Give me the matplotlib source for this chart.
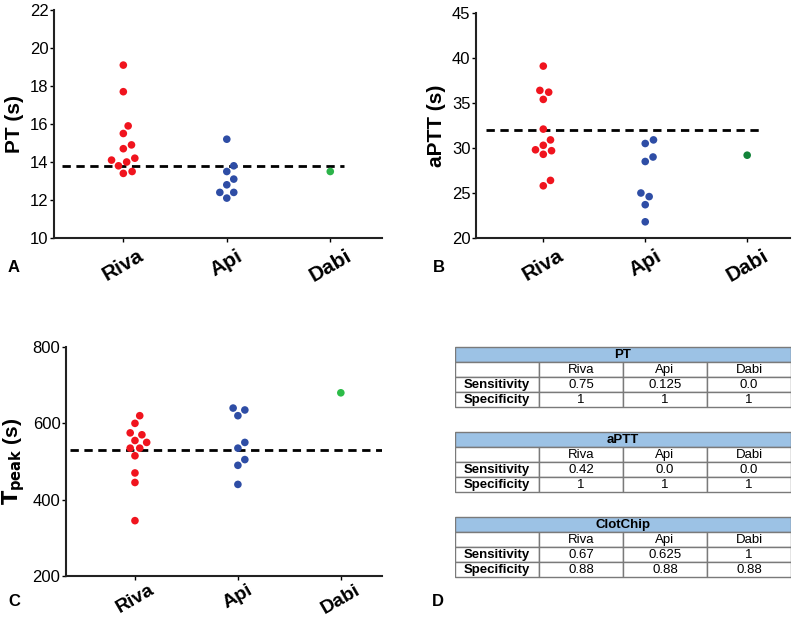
import matplotlib
matplotlib.use("Agg")
import matplotlib.pyplot as plt
from matplotlib.patches import Rectangle
import numpy as np

plt.rcParams['font.family'] = ['Liberation Sans', 'DejaVu Sans']

# --- data ---
groups = ['Riva', 'Api', 'Dabi']

pt_riva = [19.1, 17.7, 15.9, 15.5, 14.7, 14.9, 14.1, 14.2, 14.0, 13.8, 13.5, 13.4]
pt_api = [15.2, 13.8, 13.5, 13.1, 12.8, 12.4, 12.4, 12.1]
pt_dabi = [13.5]
pt_cutoff = 13.8

aptt_riva = [39.1, 36.4, 36.2, 35.4, 32.1, 30.9, 30.3, 29.7, 29.8, 29.3, 26.4, 25.8]
aptt_api = [30.9, 30.5, 29.0, 28.5, 25.0, 24.6, 23.7, 21.8]
aptt_dabi = [29.2]
aptt_cutoff = 32.0

tpeak_riva = [620, 600, 575, 570, 555, 550, 535, 535, 515, 470, 445, 345]
tpeak_api = [640, 635, 620, 550, 535, 505, 490, 440]
tpeak_dabi = [680]
tpeak_cutoff = 530

table_cols = ['Riva', 'Api', 'Dabi']
table_rows = ['Sensitivity', 'Specificity']
tables = {
    'PT': [['0.75', '0.125', '0.0'], ['1', '1', '1']],
    'aPTT': [['0.42', '0.0', '0.0'], ['1', '1', '1']],
    'ClotChip': [['0.67', '0.625', '1'], ['0.88', '0.88', '0.88']],
}

red = '#f0141e'
blue = '#2e4da5'

W, H = 795, 617
fig = plt.figure(figsize=(W / 100, H / 100), dpi=100)


def add_axes_px(left, top, right, bottom):
    return fig.add_axes([left / W, 1 - bottom / H, (right - left) / W, (bottom - top) / H])


def swarm(ax, xc, values, d_px):
    # simple beeswarm in pixel space, returns x positions in data units
    tr = ax.transData
    ypix = tr.transform(np.column_stack([np.zeros(len(values)), values]))[:, 1]
    ppu = tr.transform((1, 0))[0] - tr.transform((0, 0))[0]
    order = np.argsort(ypix, kind='stable')
    placed = []
    xs = np.zeros(len(values))
    for i in order:
        y = ypix[i]
        cands = [0.0]
        for px, py in placed:
            dy = y - py
            if abs(dy) < d_px:
                dx = np.sqrt(d_px ** 2 - dy ** 2)
                cands += [px + dx, px - dx]
        cands.sort(key=abs)
        for c in cands:
            if all((c - px) ** 2 + (y - py) ** 2 >= d_px ** 2 - 1e-6 for px, py in placed):
                xs[i] = c
                placed.append((c, y))
                break
    return xc + xs / ppu


def dot_panel(ax, series, colors, ylim, yticks, ylabel, cutoff, xlim, cut_span, xfs=15, xpad=3):
    ax.set_xlim(*xlim)
    ax.set_ylim(*ylim)
    for s in ['top', 'right']:
        ax.spines[s].set_visible(False)
    for s in ['left', 'bottom']:
        ax.spines[s].set_linewidth(1.5)
        ax.spines[s].set_color('#222222')
    ax.set_yticks(yticks)
    ax.set_xticks(range(len(groups)))
    ax.set_xticklabels(groups, rotation=30, ha='center', fontsize=xfs, fontweight='bold')
    ax.tick_params(axis='y', labelsize=12, length=3, width=1, pad=1)
    ax.tick_params(axis='x', length=3, width=1, pad=xpad)
    ax.set_ylabel(ylabel, fontsize=15, fontweight='bold', labelpad=4)
    ax.plot(cut_span, [cutoff, cutoff], ls=(0, (3, 2)), color='black', lw=2, zorder=1)
    for k, (vals, col) in enumerate(zip(series, colors)):
        xs = swarm(ax, k, vals, 9.0)
        ax.scatter(xs, vals, s=30, color=col, edgecolors='none', zorder=3)


axA = add_axes_px(54, 10, 382, 238)
dot_panel(axA, [pt_riva, pt_api, pt_dabi], [red, blue, '#2cb34a'],
          (10, 22), range(10, 23, 2), 'PT (s)', pt_cutoff, (-0.67, 2.5), [-0.59, 2.13])

axB = add_axes_px(476, 13, 790, 238)
dot_panel(axB, [aptt_riva, aptt_api, aptt_dabi], [red, blue, '#13843a'],
          (20, 45), range(20, 46, 5), 'aPTT (s)', aptt_cutoff, (-0.66, 2.42), [-0.56, 2.16])

axC = add_axes_px(66, 347, 382, 576)
dot_panel(axC, [tpeak_riva, tpeak_api, tpeak_dabi], [red, blue, '#2cbc48'],
          (200, 800), range(200, 801, 200), r'$\mathbf{T_{peak}}$ (s)', tpeak_cutoff,
          (-0.67, 2.4), [-0.63, 2.4], xfs=14, xpad=1)

# panel letters
for lbl, x, y in [('A', 8, 268), ('B', 433, 268), ('C', 8, 602), ('D', 432, 602)]:
    fig.text(x / W, 1 - y / H, lbl, fontsize=12, fontweight='bold', ha='left', va='center')

# --- panel D: tables ---
axD = add_axes_px(455, 340, 791, 585)
axD.set_xlim(455, 791)
axD.set_ylim(585, 340)
axD.axis('off')
col_edges = [455, 539, 623, 707, 791]
table_tops = [347, 432, 517]
hdr_h = 15
row_h = 15
edge = '#7a7a7a'
for (name, vals), top in zip(tables.items(), table_tops):
    axD.add_patch(Rectangle((col_edges[0], top), col_edges[-1] - col_edges[0], hdr_h,
                            facecolor='#9cc2e5', edgecolor=edge, lw=1))
    axD.text((col_edges[0] + col_edges[-1]) / 2, top + hdr_h / 2 + 0.5, name,
             ha='center', va='center', fontsize=9.5, fontweight='bold')
    rows = [[''] + table_cols] + [[r] + v for r, v in zip(table_rows, vals)]
    for ri, row in enumerate(rows):
        y0 = top + hdr_h + ri * row_h
        for ci, txt in enumerate(row):
            x0, x1 = col_edges[ci], col_edges[ci + 1]
            axD.add_patch(Rectangle((x0, y0), x1 - x0, row_h, facecolor='white',
                                    edgecolor=edge, lw=1))
            axD.text((x0 + x1) / 2, y0 + row_h / 2 + 0.5, txt, ha='center', va='center',
                     fontsize=9.5, fontweight='bold' if ci == 0 else 'normal')

fig.savefig('out.png', dpi=100)
